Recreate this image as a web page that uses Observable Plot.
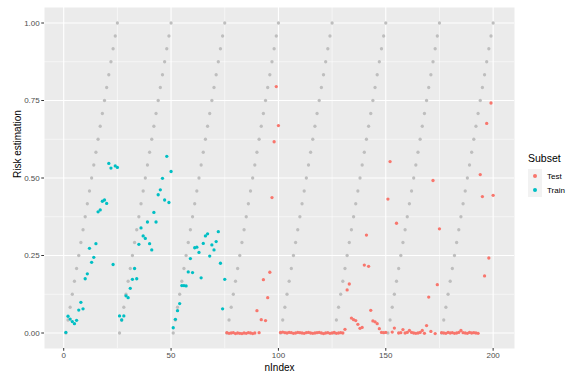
<!DOCTYPE html>
<html>
<head>
<meta charset="utf-8">
<script src="https://cdn.jsdelivr.net/npm/d3@7"></script>
<script src="https://cdn.jsdelivr.net/npm/@observablehq/plot@0.6"></script>
<style>
  html, body { margin: 0; padding: 0; background: #fff; }
  #wrap { position: relative; width: 572px; height: 373px; font-family: "Liberation Sans", Arial, sans-serif; }
  #legend { position: absolute; left: 528px; top: 152px; color: #000; }
  #legend .title { font-size: 10.5px; margin-bottom: 5px; }
  #legend .row { display: flex; align-items: center; height: 14px; }
  #legend .key { width: 14px; height: 14px; background: #F2F2F2; position: relative; }
  #legend .key span { position: absolute; left: 5px; top: 5px; width: 4px; height: 4px; border-radius: 50%; }
  #legend .lab { font-size: 8px; color: #000; margin-left: 5px; }
</style>
</head>
<body>
<div id="wrap"><div id="chart"></div>
<div id="legend">
  <div class="title">Subset</div>
  <div class="row"><div class="key"><span style="background:#F8766D"></span></div><div class="lab">Test</div></div>
  <div class="row"><div class="key"><span style="background:#00BFC4"></span></div><div class="lab">Train</div></div>
</div>
</div>
<script>
// Grey reference points (index 1..200)
const referenceRisk = [
  0, 0.042, 0.083, 0.125, 0.167, 0.208, 0.25, 0.292, 0.333, 0.375, 0.417, 0.458, 0.5, 0.542, 0.583, 0.625, 0.667, 0.708, 0.75, 0.792, 0.833, 0.875, 0.917, 0.958, 1,
  0, 0.042, 0.083, 0.125, 0.167, 0.208, 0.25, 0.292, 0.333, 0.375, 0.417, 0.458, 0.5, 0.542, 0.583, 0.625, 0.667, 0.708, 0.75, 0.792, 0.833, 0.875, 0.917, 0.958, 1,
  0, 0.042, 0.083, 0.125, 0.167, 0.208, 0.25, 0.292, 0.333, 0.375, 0.417, 0.458, 0.5, 0.542, 0.583, 0.625, 0.667, 0.708, 0.75, 0.792, 0.833, 0.875, 0.917, 0.958, 1,
  0, 0.042, 0.083, 0.125, 0.167, 0.208, 0.25, 0.292, 0.333, 0.375, 0.417, 0.458, 0.5, 0.542, 0.583, 0.625, 0.667, 0.708, 0.75, 0.792, 0.833, 0.875, 0.917, 0.958, 1,
  0, 0.042, 0.083, 0.125, 0.167, 0.208, 0.25, 0.292, 0.333, 0.375, 0.417, 0.458, 0.5, 0.542, 0.583, 0.625, 0.667, 0.708, 0.75, 0.792, 0.833, 0.875, 0.917, 0.958, 1,
  0, 0.042, 0.083, 0.125, 0.167, 0.208, 0.25, 0.292, 0.333, 0.375, 0.417, 0.458, 0.5, 0.542, 0.583, 0.625, 0.667, 0.708, 0.75, 0.792, 0.833, 0.875, 0.917, 0.958, 1,
  0, 0.042, 0.083, 0.125, 0.167, 0.208, 0.25, 0.292, 0.333, 0.375, 0.417, 0.458, 0.5, 0.542, 0.583, 0.625, 0.667, 0.708, 0.75, 0.792, 0.833, 0.875, 0.917, 0.958, 1,
  0, 0.042, 0.083, 0.125, 0.167, 0.208, 0.25, 0.292, 0.333, 0.375, 0.417, 0.458, 0.5, 0.542, 0.583, 0.625, 0.667, 0.708, 0.75, 0.792, 0.833, 0.875, 0.917, 0.958, 1
];

// Train subset: index 1..75
const trainRisk = [
  0.002, 0.054, 0.045, 0.037, 0.030, 0.041, 0.074, 0.099, 0.078, 0.175, 0.191, 0.273, 0.228, 0.244, 0.288, 0.391, 0.397, 0.425, 0.429, 0.418, 0.547, 0.532, 0.221, 0.539, 0.534,
  0.055, 0.042, 0.055, 0.120, 0.114, 0.144, 0.173, 0.208, 0.175, 0.286, 0.339, 0.313, 0.305, 0.358, 0.288, 0.268, 0.389, 0.358, 0.446, 0.462, 0.499, 0.429, 0.570, 0.421, 0.521,
  0.017, 0.044, 0.072, 0.095, 0.153, 0.153, 0.152, 0.197, 0.240, 0.195, 0.275, 0.277, 0.260, 0.178, 0.289, 0.313, 0.320, 0.248, 0.284, 0.268, 0.295, 0.327, 0.225, 0.078, 0.173
];

// Test subset: index 76..200
const testRisk = [
  0.001, -0.001, 0.000, 0.001, -0.002, 0.000, -0.001, -0.002, 0.000, -0.001, 0.001, 0.000, -0.002, 0.000,
  0.072, 0.001, 0.043, 0.172, 0.040, 0.114, 0.196, 0.437, 0.617, 0.795, 0.669,
  0.002, 0.003, 0.001, 0.000, 0.002, 0.001, -0.001, 0.000, 0.002, 0.001, 0.000, -0.001, 0.001, 0.002, 0.000, -0.001, 0.000, 0.001, 0.002, 0.000, -0.002, 0.000, 0.001, -0.001, 0.000, 0.002, -0.001, 0.000, 0.001, 0.000,
  0.012, 0.139, 0.158, 0.048, 0.043, 0.040, 0.028, 0.015, 0.018, 0.219, 0.316, 0.215, 0.073, 0.039, 0.036, 0.030, 0.014, 0.002, 0.001, 0.002,
  0.432, 0.553, 0.003, 0.016, 0.354,
  0.000, 0.001, 0.011, 0.000, 0.002, 0.008, 0.002, 0.000, -0.001, 0.000, 0.002, 0.008, -0.001, 0.024, 0.116, 0.005, 0.492, -0.002, 0.156, 0.336,
  0.001, 0.000, -0.001, 0.002, 0.000, 0.001, -0.001, 0.000, 0.002, 0.008, 0.001, 0.000, -0.001, 0.002, 0.000, 0.001, 0.000, -0.001,
  0.511, 0.440, 0.184, 0.676, 0.242, 0.742, 0.444
];

const xTicks = [0, 50, 100, 150, 200];
const yTicks = [0, 0.25, 0.5, 0.75, 1];
const xMinor = [25, 75, 125, 175];
const yMinor = [0.125, 0.375, 0.625, 0.875];

const reference = referenceRisk.map((v, i) => ({nIndex: i + 1, risk: v}));
const subsetPoints = [
  ...trainRisk.map((v, i) => ({nIndex: i + 1, risk: v, subset: "Train"})),
  ...testRisk.map((v, i) => ({nIndex: i + 76, risk: v, subset: "Test"}))
];

const chart = Plot.plot({
  width: 572,
  height: 373,
  marginLeft: 44,
  marginRight: 58,
  marginTop: 7,
  marginBottom: 25,
  style: {fontFamily: "'Liberation Sans', Arial, sans-serif", fontSize: "8px", background: "white"},
  x: {domain: [-8.95, 209.95], label: null},
  y: {domain: [-0.05, 1.05], label: null},
  color: {domain: ["Test", "Train"], range: ["#F8766D", "#00BFC4"]},
  marks: [
    Plot.frame({fill: "#EBEBEB"}),
    Plot.gridX(xMinor, {stroke: "white", strokeOpacity: 1, strokeWidth: 0.55}),
    Plot.gridY(yMinor, {stroke: "white", strokeOpacity: 1, strokeWidth: 0.55}),
    Plot.gridX(xTicks, {stroke: "white", strokeOpacity: 1, strokeWidth: 1.1}),
    Plot.gridY(yTicks, {stroke: "white", strokeOpacity: 1, strokeWidth: 1.1}),
    Plot.axisX(xTicks, {tickSize: 2.75, tickPadding: 1.5, stroke: "#333333", fill: "#4D4D4D", fontSize: 8, label: null}),
    Plot.axisY(yTicks, {tickSize: 2.75, tickPadding: 2, stroke: "#333333", fill: "#4D4D4D", fontSize: 8, tickFormat: d3.format(".2f"), label: null}),
    Plot.text(["nIndex"], {frameAnchor: "bottom", dy: 20, lineAnchor: "top", dy: 15, fontSize: 10, fill: "#000"}),
    Plot.text(["Risk estimation"], {frameAnchor: "left", dx: -27, rotate: -90, fontSize: 10, fill: "#000"}),
    Plot.dot(reference, {x: "nIndex", y: "risk", r: 1.65, fill: "#BEBEBE", stroke: null}),
    Plot.dot(subsetPoints, {x: "nIndex", y: "risk", r: 1.65, fill: "subset", stroke: null})
  ]
});
document.getElementById("chart").appendChild(chart);
</script>
</body>
</html>
